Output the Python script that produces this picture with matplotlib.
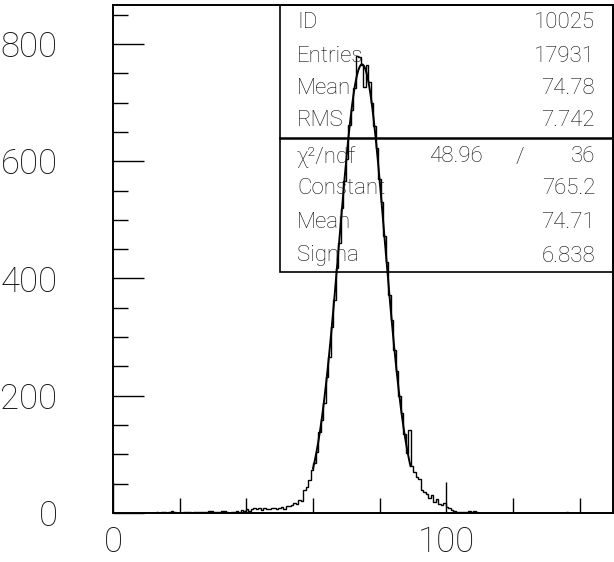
import numpy as np
import matplotlib
matplotlib.use("Agg")
import matplotlib.pyplot as plt
from matplotlib.ticker import MultipleLocator
from matplotlib.patches import Rectangle

# ---- data ----
x_min, x_max, n_bins = 0.0, 150.0, 200
counts = [0]*17 + [
    1, 0, 1, 1, 0, 2, 3, 2, 0, 0, 0, 1, 1, 1, 0, 1, 1, 2, 1, 1,      # 17-36
    2, 3, 3, 1, 2, 1, 3, 4, 1, 0, 1, 2, 3, 2, 5, 4, 6, 4, 7, 8,      # 37-56
    6, 9, 5, 8, 6, 7, 8, 8, 7, 9, 10, 7, 12, 12, 13, 17, 15, 23, 21, 40,  # 57-76
    44, 56, 73, 86, 104, 138, 158, 187, 232, 266, 318, 363, 418, 461, 520, 566, 604, 662, 688, 725,  # 77-96
    780, 778, 765, 727, 765, 735, 700, 660, 622, 570, 530, 472, 428, 372, 330, 278, 243, 200, 170, 135,  # 97-116
    102, 142, 80, 70, 62, 58, 40, 36, 33, 26, 30, 19, 24, 15, 14, 17, 10, 8, 5, 4,  # 117-136
    2, 2, 1, 2, 2, 3, 2, 3, 1,                                        # 137-145
] + [0]*54
counts[181] = 1

stats_labels = ["ID", "Entries", "Mean", "RMS"]
stats_values = ["10025", "17931", "74.78", "7.742"]
fit_labels = ["Constant", "Mean", "Sigma"]
fit_values = ["765.2", "74.71", "6.838"]
chi2_label = "\u03c7\u00b2/ndf"
chi2_text, ndf_text = "48.96", "36"
fit_const, fit_mean, fit_sigma = 765.2, 74.71, 6.838
fit_lo, fit_hi = 60.0, 89.25

y_ticks = [0, 200, 400, 600, 800]
x_ticks = [0, 100]

# ---- figure ----
FAM = ['Roboto', 'DejaVu Sans']
plt.rcParams['font.family'] = FAM
plt.rcParams['font.weight'] = 'light'

W, H = 614, 562
fig = plt.figure(figsize=(W/100, H/100), dpi=100)
ax_l, ax_r, ax_t, ax_b = 113, 613, 5, 513
ax = fig.add_axes([ax_l/W, 1 - ax_b/H, (ax_r-ax_l)/W, (ax_b-ax_t)/H])

edges = np.linspace(x_min, x_max, n_bins + 1)
ax.stairs(counts, edges, color='black', lw=1.0, baseline=None)

xf = np.linspace(fit_lo, fit_hi, 300)
yf = fit_const*np.exp(-0.5*((xf-fit_mean)/fit_sigma)**2)
ax.plot(xf, yf, color='black', lw=1.4)

ax.set_xlim(0, 150)
ax.set_ylim(0, 866.5)
ax.set_xticks(x_ticks)
ax.set_yticks(y_ticks)
ax.xaxis.set_minor_locator(MultipleLocator(20))
ax.yaxis.set_minor_locator(MultipleLocator(50))
ax.tick_params(which='major', direction='in', length=22, width=1.0, labelsize=25)
ax.tick_params(which='minor', direction='in', length=11, width=1.0)
ax.tick_params(axis='y', which='major', pad=40)
ax.tick_params(axis='x', which='major', pad=9)
for lab in ax.get_xticklabels() + ax.get_yticklabels():
    lab.set_fontweight('light')
    lab.set_color('#111111')
for s in ax.spines.values():
    s.set_linewidth(1.4)

# ---- stats box ----
def fy(py):
    return (ax_b - py) / (ax_b - ax_t)
def fx(px):
    return (px - ax_l) / (ax_r - ax_l)

bx0, bx1 = fx(280), 1.0
by0, by1 = fy(272), 1.0
ax.add_patch(Rectangle((bx0, by0), bx1-bx0, by1-by0, transform=ax.transAxes,
                       fill=False, lw=1.2, ec='black', zorder=3, clip_on=False))
ax.plot([bx0, bx1], [fy(138), fy(138)], transform=ax.transAxes, color='black', lw=1.8, zorder=3)

rows_top = [22, 57, 89, 121]
rows_bot = [157, 189, 222, 256]
fs = 16
tcol = '#111111'
kw = dict(transform=ax.transAxes, va='center', fontsize=fs, color=tcol, fontweight='light')
for lab, val, py in zip(stats_labels, stats_values, rows_top):
    ax.text(fx(297), fy(py), lab, ha='left', **kw)
    ax.text(fx(595), fy(py), val, ha='right', **kw)
ax.text(fx(297), fy(rows_bot[0]), chi2_label, ha='left', **kw)
ax.text(fx(483), fy(rows_bot[0]), chi2_text, ha='right', **kw)
ax.text(fx(520), fy(rows_bot[0]), '/', ha='center', **kw)
ax.text(fx(595), fy(rows_bot[0]), ndf_text, ha='right', **kw)
for lab, val, py in zip(fit_labels, fit_values, rows_bot[1:]):
    ax.text(fx(297), fy(py), lab, ha='left', **kw)
    ax.text(fx(595), fy(py), val, ha='right', **kw)

fig.savefig('out.png', dpi=100)
